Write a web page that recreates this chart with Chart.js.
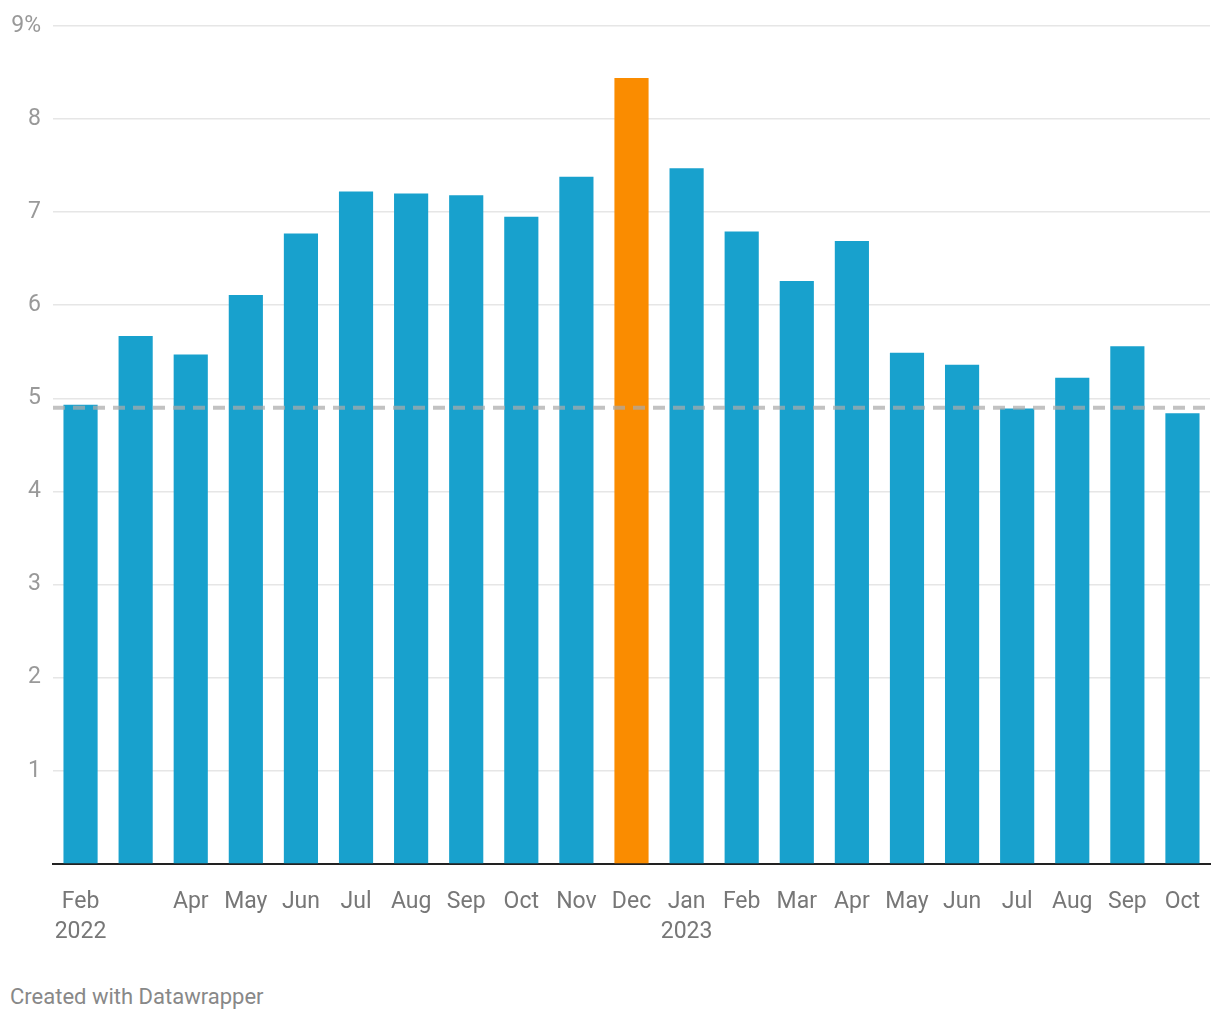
<!DOCTYPE html>
<html>
<head>
<meta charset="utf-8">
<script src="https://cdn.jsdelivr.net/npm/chart.js@4"></script>
<style>
  html, body { margin: 0; padding: 0; background: #fff; }
  #wrap { position: absolute; left: 0; top: 0; width: 1220px; height: 960px; }
  #credit { position: absolute; left: 10px; top: 984px; font-family: Roboto, sans-serif; font-size: 22px; color: #888; }
</style>
</head>
<body>
<div id="wrap"><canvas id="chart"></canvas></div>
<div id="credit">Created with Datawrapper</div>
<script>
// Monthly values, Feb 2022 - Oct 2023
var months = ['Feb', 'Mar', 'Apr', 'May', 'Jun', 'Jul', 'Aug', 'Sep', 'Oct', 'Nov', 'Dec',
              'Jan', 'Feb', 'Mar', 'Apr', 'May', 'Jun', 'Jul', 'Aug', 'Sep', 'Oct'];
var tickLabels = [['Feb', '2022'], '', 'Apr', 'May', 'Jun', 'Jul', 'Aug', 'Sep', 'Oct', 'Nov', 'Dec',
                  ['Jan', '2023'], 'Feb', 'Mar', 'Apr', 'May', 'Jun', 'Jul', 'Aug', 'Sep', 'Oct'];
var values = [4.93, 5.67, 5.47, 6.11, 6.77, 7.22, 7.20, 7.18, 6.95, 7.38, 8.44,
              7.47, 6.79, 6.26, 6.69, 5.49, 5.36, 4.89, 5.22, 5.56, 4.84];
var highlightIndex = 10;   // Dec 2022
var referenceValue = 4.9;  // dashed line

var barColors = values.map(function (v, i) {
    return i === highlightIndex ? '#fa8c00' : '#18a1cd';
});

// dashed reference line drawn on top of the bars
var refLine = {
    id: 'refLine',
    afterDatasetsDraw: function (chart) {
        var ctx = chart.ctx;
        var area = chart.chartArea;
        var y = chart.scales.y.getPixelForValue(referenceValue);
        ctx.save();
        ctx.strokeStyle = 'rgba(170,170,170,0.72)';
        ctx.lineWidth = 4;
        ctx.setLineDash([12, 8]);
        ctx.beginPath();
        ctx.moveTo(area.left, y);
        ctx.lineTo(area.right, y);
        ctx.stroke();
        ctx.restore();
    }
};

new Chart(document.getElementById('chart'), {
    type: 'bar',
    data: {
        labels: tickLabels,
        datasets: [{
            data: values,
            backgroundColor: barColors,
            borderWidth: 0,
            barPercentage: 1,
            categoryPercentage: 0.62
        }]
    },
    options: {
        responsive: true,
        maintainAspectRatio: false,
        animation: false,
        layout: { padding: { top: -6, right: 10, bottom: 10, left: 0 } },
        plugins: {
            legend: { display: false },
            tooltip: { enabled: false }
        },
        scales: {
            x: {
                afterFit: function (scale) { scale.height = 86; },
                grid: { display: false, drawOnChartArea: false, drawTicks: true, tickLength: 9, tickWidth: 2, tickColor: '#222' },
                border: { display: true, color: '#222', width: 2 },
                ticks: {
                    color: '#777',
                    font: { family: 'Roboto', size: 23, lineHeight: 1.3 },
                    padding: 14,
                    maxRotation: 0,
                    autoSkip: false
                }
            },
            y: {
                min: 0,
                max: 9,
                afterFit: function (scale) { scale.width = 53; },
                grid: { color: '#e6e6e6', lineWidth: 1.5, drawTicks: false },
                border: { display: false },
                ticks: {
                    stepSize: 1,
                    padding: 12,
                    color: '#999',
                    font: { family: 'Roboto', size: 23 },
                    callback: function (v) {
                        if (v === 0) return '';
                        return v === 9 ? v + '%' : v;
                    }
                }
            }
        }
    },
    plugins: [refLine]
});
</script>
</body>
</html>
